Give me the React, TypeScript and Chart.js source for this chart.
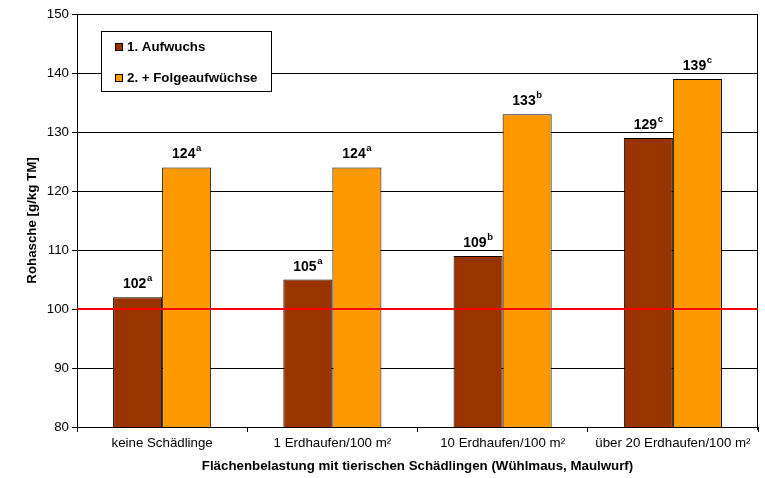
import React, { useEffect, useRef } from 'react';
import { Chart, registerables } from 'chart.js';

Chart.register(...registerables);

const categories = ['keine Schädlinge', '1 Erdhaufen/100 m²', '10 Erdhaufen/100 m²', 'über 20 Erdhaufen/100 m²'];
const series1Name = '1. Aufwuchs';
const series2Name = '2. + Folgeaufwüchse';
const series1Values = [102, 105, 109, 129];
const series2Values = [124, 124, 133, 139];
const series1Letters = ['a', 'a', 'b', 'c'];
const series2Letters = ['a', 'a', 'b', 'c'];
const yMin = 80;
const yMax = 150;
const yStep = 10;
const referenceValue = 100;
const yTitle = 'Rohasche [g/kg TM]';
const xTitle = 'Flächenbelastung mit tierischen Schädlingen (Wühlmaus, Maulwurf)';

const FONT = '"Liberation Sans", Arial, sans-serif';
const COLOR1 = '#993300';
const COLOR2 = '#FF9900';

const overlayPlugin = {
  id: 'overlay',
  afterDatasetsDraw(chart: any) {
    const ctx = chart.ctx;
    const { left, right, top, bottom } = chart.chartArea;
    const yScale = chart.scales.y;
    ctx.save();
    // right border of plot area
    ctx.strokeStyle = '#000';
    ctx.lineWidth = 1;
    ctx.beginPath();
    ctx.moveTo(Math.round(right) - 0.5, top);
    ctx.lineTo(Math.round(right) - 0.5, bottom + 3);
    ctx.stroke();

    // reference line
    const ry = Math.round(yScale.getPixelForValue(referenceValue));
    ctx.strokeStyle = '#FF0000';
    ctx.lineWidth = 2;
    ctx.beginPath();
    ctx.moveTo(left, ry);
    ctx.lineTo(right, ry);
    ctx.stroke();

    // value labels with superscript letters
    const letters = [series1Letters, series2Letters];
    ctx.fillStyle = '#000';
    ctx.textBaseline = 'alphabetic';
    ctx.textAlign = 'left';
    chart.data.datasets.forEach((ds: any, di: number) => {
      const meta = chart.getDatasetMeta(di);
      meta.data.forEach((bar: any, i: number) => {
        const num = String(ds.data[i]);
        const sup = letters[di][i];
        ctx.font = 'bold 14px ' + FONT;
        const w1 = ctx.measureText(num).width;
        ctx.font = 'bold 9.5px ' + FONT;
        const w2 = ctx.measureText(sup).width;
        const gap = 0.5;
        const total = w1 + gap + w2;
        const x0 = bar.x - total / 2;
        const yb = bar.y - 9;
        ctx.font = 'bold 14px ' + FONT;
        ctx.fillText(num, x0, yb);
        ctx.font = 'bold 9.5px ' + FONT;
        ctx.fillText(sup, x0 + w1 + gap, yb - 7);
      });
    });

    // legend box
    const bx = 101.5, by = 31.5, bw = 170, bh = 60;
    ctx.fillStyle = '#fff';
    ctx.fillRect(bx, by, bw, bh);
    ctx.strokeStyle = '#000';
    ctx.lineWidth = 1;
    ctx.strokeRect(bx, by, bw, bh);
    const items = [
      { name: series1Name, color: COLOR1, y: 47 },
      { name: series2Name, color: COLOR2, y: 78 },
    ];
    ctx.font = 'bold 13.3px ' + FONT;
    ctx.textBaseline = 'middle';
    items.forEach((it) => {
      ctx.fillStyle = it.color;
      ctx.fillRect(115, it.y - 4, 8, 8);
      ctx.strokeStyle = '#000';
      ctx.strokeRect(115.5, it.y - 3.5, 7, 7);
      ctx.fillStyle = '#000';
      ctx.fillText(it.name, 127, it.y + 0.5);
    });
    ctx.restore();
  },
};

export default function App() {
  const ref = useRef<HTMLCanvasElement>(null);
  useEffect(() => {
    document.body.style.margin = '0';
    const chart = new Chart(ref.current as HTMLCanvasElement, {
      type: 'bar',
      data: {
        labels: categories,
        datasets: [
          { label: series1Name, data: series1Values, backgroundColor: COLOR1, borderColor: '#000', borderWidth: 1, categoryPercentage: 0.576, barPercentage: 1 },
          { label: series2Name, data: series2Values, backgroundColor: COLOR2, borderColor: '#000', borderWidth: 1, categoryPercentage: 0.576, barPercentage: 1 },
        ] as any,
      },
      options: {
        animation: false,
        responsive: false,
        devicePixelRatio: 1,
        layout: { padding: { top: 14, right: 7, left: 0, bottom: 0 } },
        plugins: { legend: { display: false }, tooltip: { enabled: false } },
        scales: {
          x: {
            grid: { display: true, drawOnChartArea: false, drawTicks: true, tickLength: 5, offset: true, color: '#000' },
            border: { display: true, color: '#000' },
            ticks: { color: '#000', font: { family: FONT, size: 13.3 }, padding: 3, maxRotation: 0, autoSkip: false },
            title: { display: true, text: xTitle, color: '#000', font: { family: FONT, size: 13.3, weight: 'bold' }, padding: { top: 0, bottom: 4 } },
            afterFit: (s: any) => { s.height = 51; },
          } as any,
          y: {
            min: yMin,
            max: yMax,
            ticks: { stepSize: yStep, color: '#000', font: { family: FONT, size: 13.3 }, padding: 3 },
            grid: { color: '#000', lineWidth: 1, drawTicks: true, tickLength: 5 },
            border: { display: true, color: '#000' },
            title: { display: true, text: yTitle, color: '#000', font: { family: FONT, size: 13.3, weight: 'bold' }, padding: { top: 24, bottom: 0 } },
            afterFit: (s: any) => { s.width = 77; },
          } as any,
        },
      },
      plugins: [overlayPlugin],
    });
    return () => chart.destroy();
  }, []);
  return (
    <div style={{ position: 'absolute', left: 0, top: 0, width: 765, height: 478 }}>
      <canvas ref={ref} width={765} height={478} />
    </div>
  );
}
